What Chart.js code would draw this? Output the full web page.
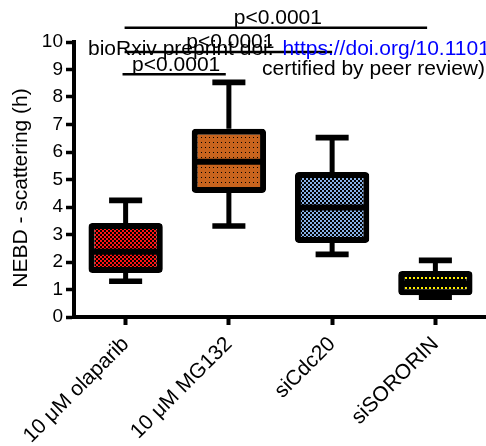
<!DOCTYPE html>
<html>
<head>
<meta charset="utf-8">
<script src="https://cdn.jsdelivr.net/npm/chart.js@4"></script>
<style>
  html, body { margin: 0; padding: 0; background: #fff; overflow: hidden; }
  #wrap { width: 486px; height: 446px; overflow: hidden; position: relative; }
  canvas { display: block; }
</style>
</head>
<body>
<div id="wrap"><canvas id="c" width="490" height="446"></canvas></div>
<script>
// ---- data ----
const categories = ["10 \u03BCM olaparib", "10 \u03BCM MG132", "siCdc20", "siSORORIN"];
const whiskerMin = [1.30, 3.31, 2.28, 0.72];
const quartile1  = [1.60, 4.51, 2.69, 0.79];
const medians    = [2.37, 5.65, 3.98, 1.21];
const quartile3  = [3.42, 6.85, 5.27, 1.67];
const whiskerMax = [4.24, 8.53, 6.52, 2.06];
const yTicks = [0, 1, 2, 3, 4, 5, 6, 7, 8, 9, 10];
const yTitle = "NEBD - scattering (h)";
const sigFrom   = [-0.01, -0.01, -0.03];
const sigTo     = [2.92, 2.0, 0.97];
const sigLevel  = [10.52, 9.64, 8.83];
const sigLabels = ["p<0.0001", "p<0.0001", "p<0.0001"];
const watermark1a = "bioRxiv preprint doi: ";
const watermark1b = "https://doi.org/10.1101/";
const watermark2 = "certified by peer review)";

const FONT = "'Liberation Sans', Arial, Helvetica, sans-serif";

function makePattern(w, h, draw) {
  const c = document.createElement('canvas');
  c.width = w; c.height = h;
  const g = c.getContext('2d');
  draw(g);
  return document.getElementById('c').getContext('2d').createPattern(c, 'repeat');
}
const patRed = makePattern(4, 4, g => {
  g.fillStyle = '#000'; g.fillRect(0, 0, 4, 4);
  g.fillStyle = '#ff1414'; g.fillRect(0, 0, 2, 2); g.fillRect(2, 2, 2, 2);
});
const patOrange = makePattern(4, 5, g => {
  g.fillStyle = '#c8641e'; g.fillRect(0, 0, 4, 5);
  g.fillStyle = '#000'; g.fillRect(1, 2, 1, 1);
});
const patBlue = makePattern(4, 4, g => {
  g.fillStyle = '#000'; g.fillRect(0, 0, 4, 4);
  g.fillStyle = '#86b0e6'; g.fillRect(0, 0, 2, 2); g.fillRect(2, 2, 2, 2);
});
const patYellow = makePattern(4, 10, g => {
  g.fillStyle = '#000'; g.fillRect(0, 0, 4, 10);
  g.fillStyle = '#ffee00'; g.fillRect(1, 7, 2, 2);
});

const boxPlugin = {
  id: 'boxParts',
  beforeDatasetsDraw(chart) {
    const ctx = chart.ctx, xs = chart.scales.x, ys = chart.scales.y;
    const catW = xs.getPixelForValue(1) - xs.getPixelForValue(0);
    ctx.save();
    ctx.strokeStyle = '#000';
    ctx.lineCap = 'butt';
    for (let i = 0; i < categories.length; i++) {
      const x = xs.getPixelForValue(i);
      ctx.lineWidth = 5;
      ctx.beginPath();
      ctx.moveTo(x, ys.getPixelForValue(whiskerMax[i]));
      ctx.lineTo(x, ys.getPixelForValue(quartile3[i]));
      ctx.moveTo(x, ys.getPixelForValue(quartile1[i]));
      ctx.lineTo(x, ys.getPixelForValue(whiskerMin[i]));
      ctx.stroke();
      const half = catW * 0.16;
      ctx.lineWidth = 5.7;
      ctx.beginPath();
      ctx.moveTo(x - half, ys.getPixelForValue(whiskerMax[i]));
      ctx.lineTo(x + half, ys.getPixelForValue(whiskerMax[i]));
      ctx.moveTo(x - half, ys.getPixelForValue(whiskerMin[i]));
      ctx.lineTo(x + half, ys.getPixelForValue(whiskerMin[i]));
      ctx.stroke();
    }
    ctx.restore();
  },
  afterDatasetsDraw(chart) {
    const ctx = chart.ctx, ys = chart.scales.y;
    const meta = chart.getDatasetMeta(0);
    ctx.save();
    ctx.strokeStyle = '#000';
    ctx.lineWidth = 6;
    meta.data.forEach((bar, i) => {
      const y = ys.getPixelForValue(medians[i]);
      ctx.beginPath();
      ctx.moveTo(bar.x - bar.width / 2 + 2, y);
      ctx.lineTo(bar.x + bar.width / 2 - 2, y);
      ctx.stroke();
    });
    ctx.restore();
  },
  afterDraw(chart) {
    const ctx = chart.ctx, xs = chart.scales.x, ys = chart.scales.y;
    ctx.save();
    // y axis title
    ctx.fillStyle = '#000';
    ctx.font = `21px ${FONT}`;
    ctx.textAlign = 'center';
    ctx.textBaseline = 'middle';
    ctx.translate(21, 188);
    ctx.rotate(-Math.PI / 2);
    ctx.fillText(yTitle, 0, 0);
    ctx.restore();

    // significance bars
    ctx.save();
    ctx.strokeStyle = '#000';
    ctx.fillStyle = '#000';
    ctx.lineWidth = 2.5;
    ctx.font = `21px ${FONT}`;
    ctx.textAlign = 'center';
    ctx.textBaseline = 'alphabetic';
    for (let k = 0; k < sigLabels.length; k++) {
      const x1 = xs.getPixelForValue(sigFrom[k]);
      const x2 = xs.getPixelForValue(sigTo[k]);
      const y = ys.getPixelForValue(sigLevel[k]);
      ctx.beginPath();
      ctx.moveTo(x1, y);
      ctx.lineTo(x2, y);
      ctx.stroke();
      ctx.fillText(sigLabels[k], (x1 + x2) / 2 + 2, y - 3.5);
    }
    ctx.restore();

    // preprint watermark text
    ctx.save();
    ctx.font = `21px ${FONT}`;
    ctx.textBaseline = 'alphabetic';
    ctx.textAlign = 'left';
    ctx.fillStyle = '#000';
    ctx.fillText(watermark1a, 88, 55);
    const w = ctx.measureText(watermark1a).width;
    ctx.fillStyle = '#0000ff';
    ctx.fillText(watermark1b, 88 + w + 3, 55);
    ctx.fillStyle = '#000';
    ctx.textAlign = 'right';
    ctx.fillText(watermark2, 485, 75);
    ctx.restore();
  }
};

new Chart(document.getElementById('c'), {
  type: 'bar',
  data: {
    labels: categories,
    datasets: [{
      data: quartile1.map((q, i) => [q, quartile3[i]]),
      backgroundColor: [patRed, patOrange, patBlue, patYellow],
      borderColor: '#000',
      borderWidth: 6,
      borderRadius: 4,
      borderSkipped: false,
      barPercentage: 0.72,
      categoryPercentage: 1.0
    }]
  },
  options: {
    responsive: false,
    animation: false,
    layout: { padding: { top: 42, right: 3, left: 0, bottom: 0 } },
    plugins: { legend: { display: false }, tooltip: { enabled: false } },
    scales: {
      x: {
        offset: true,
        grid: { offset: false, drawOnChartArea: false, drawTicks: true, tickLength: 8, tickWidth: 4, color: '#000' },
        border: { display: true, width: 4, color: '#000' },
        ticks: { color: '#000', font: { family: FONT, size: 21 }, minRotation: 45, maxRotation: 45, padding: 7 },
        afterFit(s) { s.height = 129; }
      },
      y: {
        min: 0, max: 10,
        afterBuildTicks(s) { s.ticks = yTicks.map(v => ({ value: v })); },
        grid: { drawOnChartArea: false, drawTicks: true, tickLength: 8, tickWidth: 3.5, color: '#000' },
        border: { display: true, width: 4, color: '#000' },
        ticks: { color: '#000', font: { family: FONT, size: 19 }, padding: 3 },
        afterFit(s) { s.width = 74; }
      }
    }
  },
  plugins: [boxPlugin]
});
</script>
</body>
</html>
